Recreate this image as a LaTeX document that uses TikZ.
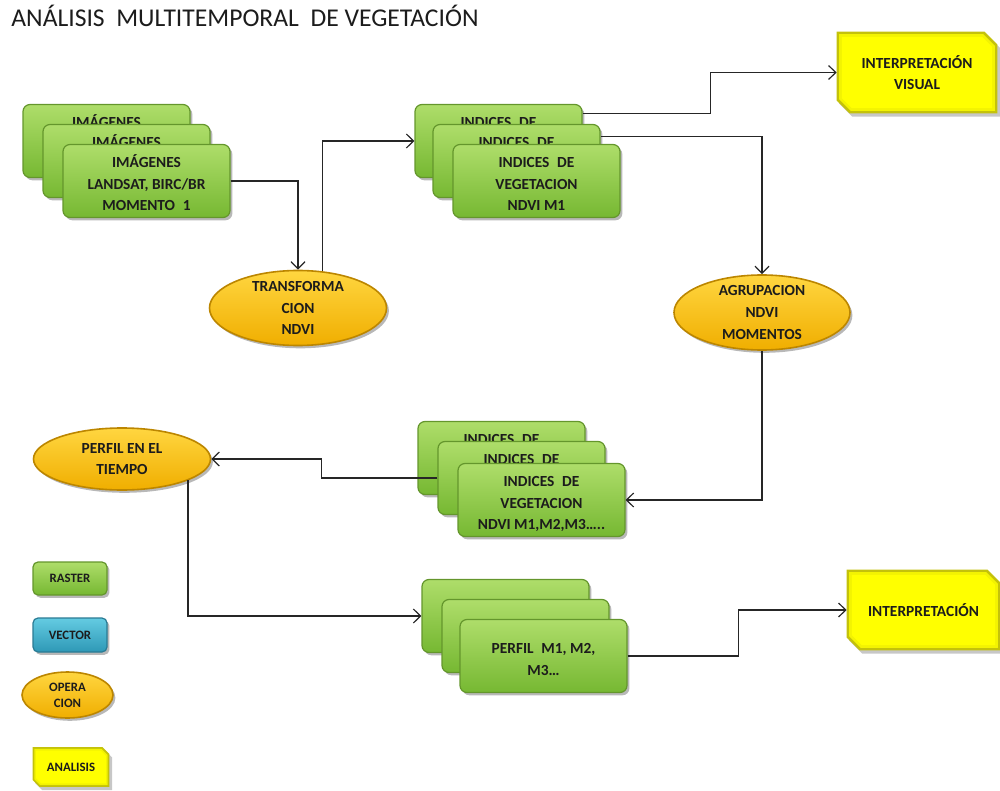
\documentclass[tikz,border=0pt]{standalone}
\usepackage{fontspec}
\setmainfont{Carlito}
\usetikzlibrary{shapes.geometric,shadows,arrows.meta,backgrounds}

\definecolor{grnTop}{HTML}{AEDD6A}
\definecolor{grnBot}{HTML}{76B832}
\definecolor{grnEdge}{HTML}{64962C}
\definecolor{golTop}{HTML}{FFD640}
\definecolor{golBot}{HTML}{F0AE00}
\definecolor{golEdge}{HTML}{BC8600}
\definecolor{ylwFill}{HTML}{FFFF00}
\definecolor{ylwEdge}{HTML}{C4C20A}
\definecolor{bluTop}{HTML}{64CBE2}
\definecolor{bluBot}{HTML}{2E98B6}
\definecolor{bluEdge}{HTML}{2A7B94}
\definecolor{txt}{HTML}{1C1C1C}

\newcommand\boxfont{\bfseries\fontsize{7.7}{10.8}\selectfont}
\newcommand\legfont{\bfseries\fontsize{6.4}{8}\selectfont}
% box text, set slightly below the box centre (size kept, so only the ink moves)
\newcommand\stk[1]{\raisebox{-2pt}[\height][\depth]{\begin{tabular}{@{}c@{}}#1\end{tabular}}}

% filled polygon with chamfered north-east and south-west corners around a node
% #1 style, #2 node, #3 chamfer, #4 inset, #5 dx, #6 dy
\newcommand\bevelpoly[6]{%
  \fill[#1] ([shift={(#4+#5,-#4+#6)}]#2.north west)
    -- ([shift={(-#3-0.414*#4+#5,-#4+#6)}]#2.north east)
    -- ([shift={(-#4+#5,-#3-0.414*#4+#6)}]#2.north east)
    -- ([shift={(-#4+#5,#4+#6)}]#2.south east)
    -- ([shift={(#3+0.414*#4+#5,#4+#6)}]#2.south west)
    -- ([shift={(#4+#5,#3+0.414*#4+#6)}]#2.south west) -- cycle;}
% bevelled yellow panel behind a node: #1 node, #2 chamfer, #3 rim width
\newcommand\ybevel[3]{%
  \begin{pgfonlayer}{background}
    \bevelpoly{black,opacity=0.22}{#1}{#2}{0pt}{1.3pt}{(-1.6pt)}
    \bevelpoly{ylwEdge}{#1}{#2}{0pt}{0pt}{0pt}
    \bevelpoly{ylwFill!80!ylwEdge}{#1}{#2}{0.5*#3}{0pt}{0pt}
    \bevelpoly{ylwFill}{#1}{#2}{#3}{0pt}{0pt}
  \end{pgfonlayer}}

\tikzset{
  softshadow/.style={drop shadow={shadow xshift=1.2pt,shadow yshift=-1.4pt,opacity=0.28,fill=black}},
  gbox/.style={rectangle, rounded corners=3.5pt, draw=grnEdge, line width=0.6pt,
    top color=grnTop, bottom color=grnBot, softshadow,
    minimum width=83.5pt, minimum height=36.5pt, inner sep=0pt,
    align=center, text=txt, font=\boxfont},
  gell/.style={ellipse, draw=golEdge, line width=0.8pt, top color=golTop, bottom color=golBot,
    softshadow, inner sep=0pt},
  elbl/.style={align=center, text=txt, font=\boxfont},
  ybox/.style={rectangle, inner sep=0pt, align=center, text=txt, font=\boxfont},
  link/.style={draw=black!85, line width=0.6pt},
  arr/.style={link, -{Straight Barb[length=3.6pt,width=7pt,line width=0.6pt]}}
}

\begin{document}
\begin{tikzpicture}[x=0.5pt,y=-0.5pt]
\useasboundingbox (0,0) rectangle (1000,791);

% title
\node[anchor=base west, inner sep=0pt, text=txt, font=\fontsize{12.8}{15}\selectfont]
  (title) at (11,27) {ANÁLISIS\ \ MULTITEMPORAL\ \ DE VEGETACIÓN};

% input images, moment stack
\node[gbox] (s1a) at (106.5,141) {\stk{IMÁGENES\\LANDSAT, BIRC/BR\\MOMENTO\enspace 1}};
\node[gbox] (s1b) at (126.5,161) {\stk{IMÁGENES\\LANDSAT, BIRC/BR\\MOMENTO\enspace 1}};
\node[gbox] (s1c) at (146.5,181) {\stk{IMÁGENES\\LANDSAT, BIRC/BR\\MOMENTO\enspace 1}};

% NDVI transform
\node[gell, minimum width=88.5pt, minimum height=37.5pt,
  label={[elbl]center:TRANSFORMA\\CION\\NDVI}] (T) at (298,308) {};

% vegetation index stack
\node[gbox] (s2a) at (498.5,141) {\stk{INDICES\enspace DE\\VEGETACION\\NDVI M1}};
\node[gbox] (s2b) at (516.5,161) {\stk{INDICES\enspace DE\\VEGETACION\\NDVI M1}};
\node[gbox] (s2c) at (536.5,181) {\stk{INDICES\enspace DE\\VEGETACION\\NDVI M1}};

% visual interpretation
\node[ybox, minimum width=80pt, minimum height=40.5pt] (IV) at (917,72.5) {INTERPRETACIÓN\\VISUAL};
\ybevel{IV}{6.5pt}{2.6pt}

% grouping of moments
\node[gell, minimum width=88pt, minimum height=37.5pt,
  label={[elbl]center:AGRUPACION\\NDVI\\MOMENTOS}] (A) at (762,312.5) {};

% multi-moment index stack
\node[gbox] (s3a) at (501.5,458) {\stk{INDICES\enspace DE\\VEGETACION\\NDVI M1,M2,M3…..}};
\node[gbox] (s3b) at (521.5,478) {\stk{INDICES\enspace DE\\VEGETACION\\NDVI M1,M2,M3…..}};
\node[gbox] (s3c) at (541.5,500) {\stk{INDICES\enspace DE\\VEGETACION\\NDVI M1,M2,M3…..}};

% time profile
\node[gell, minimum width=88.5pt, minimum height=31pt,
  label={[elbl]center:PERFIL EN EL\\TIEMPO}] (P) at (122,459) {};

% profile stack
\node[gbox] (s4a) at (505.5,616) {};
\node[gbox] (s4b) at (525.5,636) {};
\node[gbox] (s4c) at (543.5,656) {\stk{PERFIL\enspace M1, M2,\\M3…}};

% interpretation
\node[ybox, minimum width=76.5pt, minimum height=40pt] (I) at (923.5,610) {INTERPRETACIÓN};
\ybevel{I}{6.5pt}{2.6pt}

% legend
\node[gbox, minimum width=37pt, minimum height=16.5pt, rounded corners=2.5pt, font=\legfont] (lr) at (70,578.5) {RASTER};
\node[gbox, minimum width=37pt, minimum height=17pt, rounded corners=2.5pt, font=\legfont,
  top color=bluTop, bottom color=bluBot, draw=bluEdge] (lv) at (70,635) {VECTOR};
\node[gell, minimum width=45.5pt, minimum height=23pt,
  label={[elbl, font=\legfont]center:OPERA\\CION}] (lo) at (67.5,695) {};
\node[ybox, minimum width=38pt, minimum height=19.5pt, font=\legfont] (la) at (71,767) {ANALISIS};
\ybevel{la}{3.5pt}{1.8pt}

% connectors
\draw[arr] (s1c.east) -| (T.north);
\draw[arr] (T.56) |- (s2a.west);
\draw[arr] ([yshift=-5pt]s2a.north east) -- ++(128,0) |- (IV.west);
\draw[arr] ([yshift=-6.5pt]s2b.north east) -| (A.north);
\draw[arr] (A.south) |- (s3c.east);
\draw[arr] (s3b.west) -- ++(-116,0) |- (P.east);
\draw[arr] (P.-18) |- (s4a.west);
\draw[arr] (s4c.east) -- ++(111,0) |- (I.west);
\end{tikzpicture}
\end{document}
